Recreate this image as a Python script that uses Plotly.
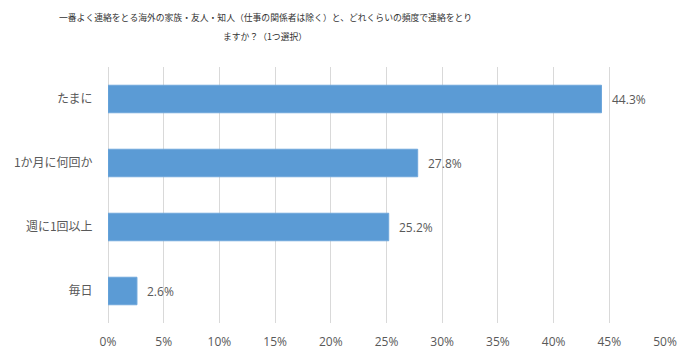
import plotly.graph_objects as go

categories = ["たまに", "1か月に何回か", "週に1回以上", "毎日"]
values = [44.3, 27.8, 25.2, 2.6]
tick_vals = [0, 5, 10, 15, 20, 25, 30, 35, 40, 45, 50]
tick_text = [f"{v}%" for v in tick_vals]
title_lines = ["一番よく連絡をとる海外の家族・友人・知人（仕事の関係者は除く）と、どれくらいの頻度で連絡をとり",
               "ますか？（1つ選択）"]

TEXT = "#595959"
FONT = "Noto Sans CJK JP, Noto Sans, sans-serif"

fig = go.Figure()
fig.add_trace(go.Bar(
    x=values, y=categories, orientation="h",
    marker=dict(color="#5B9BD5", line=dict(color="#6fa7db", width=1)),
    hoverinfo="skip",
))
for c, v in zip(categories, values):
    fig.add_annotation(x=v, y=c, text=f"{v:.1f}%", showarrow=False,
                       xanchor="left", xshift=8,
                       font=dict(family="Open Sans, sans-serif", size=12, color=TEXT))

for i, line in enumerate(title_lines):
    fig.add_annotation(text=line, xref="paper", yref="paper",
                       x=(265 - 108) / 557, y=1 + (50 - 19 * i) / 256,
                       xanchor="center", yanchor="middle", showarrow=False,
                       font=dict(family=FONT, size=8.8, color="#333333"))

# page body has an 8px default margin; figure is sized to fit the 697x362 window
fig.update_layout(
    width=689, height=354,
    margin=dict(l=100, r=32, t=59, b=39, autoexpand=False),
    paper_bgcolor="white", plot_bgcolor="white",
    showlegend=False,
    bargap=0.57,
    font=dict(family=FONT, color=TEXT),
)
fig.update_xaxes(range=[0, 50], tickvals=tick_vals, ticktext=tick_text,
                 showgrid=True, gridcolor="#d9d9d9", gridwidth=1,
                 zeroline=True, zerolinecolor="#d9d9d9", zerolinewidth=1,
                 ticks="outside", ticklen=8, tickcolor="rgba(0,0,0,0)",
                 tickfont=dict(family="Open Sans, sans-serif", size=12, color=TEXT),
                 automargin=False, fixedrange=True)
fig.update_yaxes(categoryorder="array", categoryarray=categories[::-1],
                 showgrid=False, zeroline=False,
                 ticks="outside", ticklen=12, tickcolor="rgba(0,0,0,0)",
                 tickfont=dict(family=FONT, size=12, color=TEXT),
                 automargin=False, fixedrange=True)

fig.write_html("out.html", config={"displayModeBar": False})
